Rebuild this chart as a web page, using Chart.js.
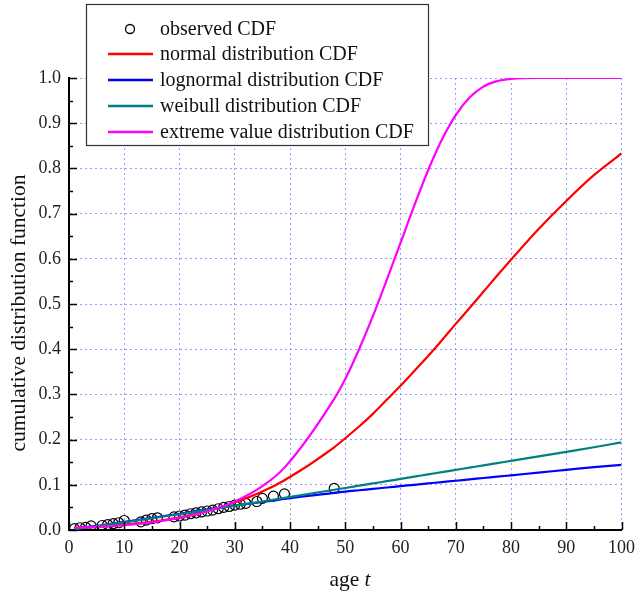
<!DOCTYPE html>
<html>
<head>
<meta charset="utf-8">
<script src="https://cdn.jsdelivr.net/npm/chart.js@4/dist/chart.umd.min.js"></script>
<style>
  html, body { margin: 0; padding: 0; background: #fff; }
  #wrap { width: 642px; height: 593px; position: relative; }
</style>
</head>
<body>
<div id="wrap"><canvas id="cdfChart"></canvas></div>
<script>
// observed points (age, empirical CDF)
const obsAge = [1, 2, 3, 4, 6, 7, 8, 9, 10, 13, 14, 15, 16, 19, 20, 21, 22, 23, 24, 25, 26, 27, 28, 29, 30, 31, 32, 34, 35, 37, 39, 48];
const obsCdf = [0.003, 0.005, 0.006, 0.009, 0.010, 0.012, 0.014, 0.016, 0.021, 0.018, 0.022, 0.025, 0.027, 0.029, 0.031, 0.033, 0.036, 0.038, 0.040, 0.042, 0.044, 0.047, 0.050, 0.052, 0.055, 0.057, 0.059, 0.063, 0.070, 0.075, 0.080, 0.092];

// fitted curves, all on the same ages
const fitAge = [1, 5, 10, 15, 20, 25, 30, 35, 39, 48, 50, 52.5, 55, 57.5, 60, 62.5, 65, 67.5, 70, 72.5, 75, 77.5, 80, 85, 90, 95, 100];
const normalCdf = [0.005, 0.007, 0.012, 0.018, 0.028, 0.042, 0.061, 0.085, 0.110, 0.183, 0.203, 0.229, 0.257, 0.288, 0.319, 0.352, 0.385, 0.420, 0.456, 0.491, 0.527, 0.563, 0.598, 0.666, 0.728, 0.785, 0.833];
const lognormalCdf = [0.003, 0.009, 0.018, 0.027, 0.036, 0.045, 0.054, 0.062, 0.069, 0.082, 0.085, 0.088, 0.091, 0.094, 0.097, 0.100, 0.103, 0.106, 0.109, 0.112, 0.115, 0.118, 0.121, 0.127, 0.133, 0.139, 0.144];
const weibullCdf = [0.002, 0.008, 0.017, 0.026, 0.035, 0.044, 0.054, 0.063, 0.071, 0.089, 0.093, 0.098, 0.103, 0.108, 0.113, 0.118, 0.123, 0.128, 0.133, 0.138, 0.143, 0.148, 0.153, 0.163, 0.173, 0.183, 0.194];
const extremeCdf = [0.005, 0.007, 0.011, 0.017, 0.027, 0.041, 0.063, 0.097, 0.138, 0.290, 0.334, 0.400, 0.473, 0.553, 0.635, 0.718, 0.796, 0.864, 0.918, 0.957, 0.981, 0.993, 0.998, 1.0, 1.0, 1.0, 1.0];

const xTicks = [0, 10, 20, 30, 40, 50, 60, 70, 80, 90, 100];
const yTicks = [0, 0.1, 0.2, 0.3, 0.4, 0.5, 0.6, 0.7, 0.8, 0.9, 1.0];

const serif = '"Liberation Serif", "Times New Roman", serif';
const gridColor = 'rgba(120,120,255,0.75)';

function pts(xs, ys) {
    return xs.map((x, i) => ({ x: x, y: ys[i] }));
}

function curve(label, color, ys, order) {
    return {
        label: label,
        data: pts(fitAge, ys),
        showLine: true,
        borderColor: color,
        backgroundColor: color,
        borderWidth: 2.2,
        pointRadius: 0,
        cubicInterpolationMode: 'monotone',
        order: order
    };
}

// inward ticks, axis titles and the boxed legend
const decor = {
    id: 'decor',
    afterDraw(chart) {
        const ctx = chart.ctx;
        const xs = chart.scales.x, ys = chart.scales.y;
        const a = chart.chartArea;
        ctx.save();
        ctx.strokeStyle = '#000';
        ctx.lineWidth = 1.5;
        ctx.beginPath();
        for (let v = 0; v <= 100; v += 5) {
            const px = Math.round(xs.getPixelForValue(v)) + 0.5;
            const len = v % 10 === 0 ? 8 : 4;
            ctx.moveTo(px, a.bottom);
            ctx.lineTo(px, a.bottom - len);
        }
        for (let i = 0; i <= 20; i++) {
            const py = Math.round(ys.getPixelForValue(i * 0.05)) + 0.5;
            const len = i % 2 === 0 ? 8 : 4;
            ctx.moveTo(a.left, py);
            ctx.lineTo(a.left + len, py);
        }
        ctx.stroke();

        // axis titles
        const tf = '21.5px ' + serif;
        ctx.fillStyle = '#111';
        ctx.font = tf;
        ctx.textBaseline = 'middle';
        const w1 = ctx.measureText('age ').width;
        ctx.font = 'italic ' + tf;
        const w2 = ctx.measureText('t').width;
        const sx = 350 - (w1 + w2) / 2;
        ctx.textAlign = 'left';
        ctx.font = tf;
        ctx.fillText('age ', sx, 580);
        ctx.font = 'italic ' + tf;
        ctx.fillText('t', sx + w1, 580);

        ctx.save();
        ctx.translate(19, 313);
        ctx.rotate(-Math.PI / 2);
        ctx.textAlign = 'center';
        ctx.font = tf;
        ctx.fillText('cumulative distribution function', 0, 0);
        ctx.restore();

        // legend box
        const bx = 86, by = 4, bw = 342, bh = 141;
        ctx.fillStyle = '#fff';
        ctx.fillRect(bx, by, bw, bh);
        ctx.strokeStyle = '#333';
        ctx.lineWidth = 1.2;
        ctx.strokeRect(bx + 0.5, by + 0.5, bw, bh);
        const rows = [29, 54, 80, 106, 132];
        ctx.font = '20px ' + serif;
        ctx.textAlign = 'left';
        ctx.textBaseline = 'middle';
        chart.data.datasets.forEach((ds, i) => {
            const ry = rows[i];
            if (ds.showLine) {
                ctx.strokeStyle = ds.borderColor;
                ctx.lineWidth = 2.5;
                ctx.beginPath();
                ctx.moveTo(108, ry);
                ctx.lineTo(153, ry);
                ctx.stroke();
            } else {
                ctx.strokeStyle = '#000';
                ctx.lineWidth = 1.3;
                ctx.beginPath();
                ctx.arc(130, ry, 4.5, 0, Math.PI * 2);
                ctx.stroke();
            }
            ctx.fillStyle = '#111';
            ctx.fillText(ds.label, 160, ry + 1);
        });
        ctx.restore();
    }
};

const ctx = document.getElementById('cdfChart').getContext('2d');
const myChart = new Chart(ctx, {
    type: 'scatter',
    data: {
        datasets: [
            {
                label: 'observed CDF',
                data: pts(obsAge, obsCdf),
                pointStyle: 'circle',
                pointRadius: 5,
                pointBorderWidth: 1.2,
                borderColor: '#000',
                backgroundColor: 'rgba(0,0,0,0)',
                order: 9
            },
            curve('normal distribution CDF', '#ff0000', normalCdf, 4),
            curve('lognormal distribution CDF', '#0000ff', lognormalCdf, 3),
            curve('weibull distribution CDF', '#008080', weibullCdf, 2),
            curve('extreme value distribution CDF', '#ff00ff', extremeCdf, 1)
        ]
    },
    options: {
        responsive: true,
        maintainAspectRatio: false,
        animation: false,
        layout: { padding: { top: 78, right: 12, left: 0, bottom: 0 } },
        plugins: { legend: { display: false }, tooltip: { enabled: false } },
        scales: {
            x: {
                type: 'linear',
                min: 0, max: 100,
                afterBuildTicks: s => { s.ticks = xTicks.map(v => ({ value: v })); },
                afterFit: s => { s.height = 63; },
                ticks: { color: '#222', font: { family: serif, size: 18 }, padding: 7, maxRotation: 0 },
                grid: { color: gridColor, lineWidth: 1, drawTicks: false },
                border: { display: true, color: '#000', width: 2, dash: [2, 3] }
            },
            y: {
                min: 0, max: 1,
                afterBuildTicks: s => { s.ticks = yTicks.map(v => ({ value: v })); },
                afterFit: s => { s.width = 69; },
                ticks: { color: '#222', font: { family: serif, size: 18 }, padding: 8, callback: v => v.toFixed(1) },
                grid: { color: gridColor, lineWidth: 1, drawTicks: false },
                border: { display: true, color: '#000', width: 2, dash: [2, 3] }
            }
        }
    },
    plugins: [decor]
});
</script>
</body>
</html>
